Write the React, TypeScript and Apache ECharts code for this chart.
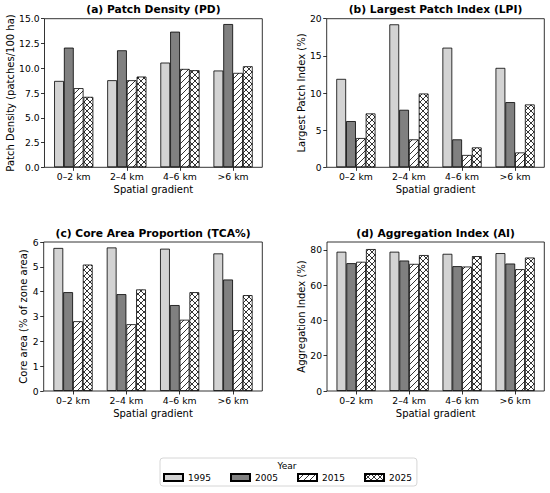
import React, { useEffect, useRef } from "react";
import * as echarts from "echarts";

const categories = ["0–2 km", "2–4 km", "4–6 km", ">6 km"];
const years = ["1995", "2005", "2015", "2025"];

const pd1995 = [8.72, 8.79, 10.57, 9.77];
const pd2005 = [12.08, 11.81, 13.69, 14.46];
const pd2015 = [7.99, 8.79, 9.93, 9.53];
const pd2025 = [7.11, 9.16, 9.8, 10.2];

const lpi1995 = [11.9, 19.24, 16.1, 13.38];
const lpi2005 = [6.22, 7.74, 3.76, 8.77];
const lpi2015 = [3.94, 3.76, 1.66, 2.0];
const lpi2025 = [7.25, 9.93, 2.68, 8.46];

const tca1995 = [5.76, 5.78, 5.73, 5.54];
const tca2005 = [3.98, 3.9, 3.46, 4.49];
const tca2015 = [2.81, 2.69, 2.87, 2.45];
const tca2025 = [5.09, 4.09, 3.98, 3.86];

const ai1995 = [78.9, 78.9, 77.7, 78.1];
const ai2005 = [72.4, 73.9, 70.7, 72.2];
const ai2015 = [73.2, 72.0, 70.5, 69.0];
const ai2025 = [80.4, 77.0, 76.4, 75.6];

const panelTitles = [
  "(a) Patch Density (PD)",
  "(b) Largest Patch Index (LPI)",
  "(c) Core Area Proportion (TCA%)",
  "(d) Aggregation Index (AI)",
];
const yNames = [
  "Patch Density (patches/100 ha)",
  "Largest Patch Index (%)",
  "Core area (% of zone area)",
  "Aggregation Index (%)",
];
const xName = "Spatial gradient";
const legendTitle = "Year";

const FONT = "DejaVu Sans";

function hatch(cross: boolean) {
  const s = 6;
  let d = `M0,${s} L${s},0 M-1,1 L1,-1 M${s - 1},${s + 1} L${s + 1},${s - 1}`;
  if (cross) d += ` M0,0 L${s},${s} M-1,${s - 1} L1,${s + 1} M${s - 1},-1 L${s + 1},1`;
  const svg = `<svg xmlns='http://www.w3.org/2000/svg' width='${s}' height='${s}'><rect width='${s}' height='${s}' fill='white'/><path d='${d}' stroke='black' stroke-width='0.8' fill='none'/></svg>`;
  return {
    image: "data:image/svg+xml;charset=utf-8," + encodeURIComponent(svg),
    repeat: "repeat",
    imageWidth: s,
    imageHeight: s,
  };
}

export default function App() {
  const ref = useRef<HTMLDivElement>(null);
  useEffect(() => {
    if (!ref.current) return;
    const chart = echarts.init(ref.current, undefined, { renderer: "svg" });

    const data = [
      [pd1995, pd2005, pd2015, pd2025],
      [lpi1995, lpi2005, lpi2015, lpi2025],
      [tca1995, tca2005, tca2015, tca2025],
      [ai1995, ai2005, ai2015, ai2025],
    ];
    const yMax = [15, 20, 6, 84.4];
    const yInterval = [2.5, 5, 1, 20];
    const yNameGap = [28, 19.5, 14.5, 19.5];
    const frames = [
      { x: 44.5, y: 18.7, w: 217.8, h: 148.6 },
      { x: 326.7, y: 18.7, w: 217.6, h: 148.6 },
      { x: 43.7, y: 242, w: 218.6, h: 149 },
      { x: 327, y: 242, w: 217.3, h: 149 },
    ];
    const colors: any[] = ["#d3d3d3", "#808080", hatch(false), hatch(true)];

    const grids: any[] = [];
    const xAxes: any[] = [];
    const yAxes: any[] = [];
    const series: any[] = [];
    const titles: any[] = [];
    const graphics: any[] = [];

    frames.forEach((f, p) => {
      const pad = (f.w * 0.05) / 4.1;
      grids.push({ left: f.x + pad, top: f.y, width: f.w - 2 * pad, height: f.h, containLabel: false });
      xAxes.push({
        type: "category",
        gridIndex: p,
        data: categories,
        name: xName,
        nameLocation: "middle",
        nameGap: 17,
        nameTextStyle: { fontFamily: FONT, fontSize: 10, color: "#000" },
        axisLine: { show: false },
        axisTick: { show: true, alignWithLabel: true, length: 3.5, lineStyle: { color: "#000", width: 0.8 } },
        axisLabel: { fontFamily: FONT, fontSize: 9.3, color: "#000", margin: 5, interval: 0 },
        splitLine: { show: false },
      });
      yAxes.push({
        type: "value",
        gridIndex: p,
        min: 0,
        max: yMax[p],
        interval: yInterval[p],
        offset: pad,
        name: yNames[p],
        nameLocation: "middle",
        nameGap: yNameGap[p],
        nameTextStyle: { fontFamily: FONT, fontSize: 10, color: "#000" },
        axisLine: { show: false },
        axisTick: { show: true, length: 3.5, lineStyle: { color: "#000", width: 0.8 } },
        axisLabel: {
          fontFamily: FONT,
          fontSize: 9.2,
          color: "#000",
          margin: 5,
          showMaxLabel: p === 3 ? false : true,
          formatter: (v: number) => (p === 0 ? v.toFixed(1) : String(v)),
        },
        splitLine: { show: false },
      });
      titles.push({
        text: panelTitles[p],
        left: f.x + f.w / 2,
        top: f.y - 14.5,
        textAlign: "center",
        padding: 0,
        textStyle: { fontFamily: FONT, fontSize: 10.7, fontWeight: "bold", color: "#000" },
      });
      graphics.push({
        type: "rect",
        z: 100,
        silent: true,
        shape: { x: f.x, y: f.y, width: f.w, height: f.h },
        style: { fill: "none", stroke: "#000", lineWidth: 0.8 },
      });
      years.forEach((yr, i) => {
        series.push({
          type: "bar",
          name: yr,
          xAxisIndex: p,
          yAxisIndex: p,
          data: data[p][i],
          barWidth: 9.8,
          barGap: "0%",
          itemStyle: { color: colors[i], borderColor: "#000", borderWidth: 0.8 },
          emphasis: { disabled: true },
        });
      });
    });

    graphics.push({
      type: "text",
      x: 287,
      y: 465.5,
      style: {
        text: legendTitle,
        fontFamily: FONT,
        fontSize: 9,
        fill: "#000",
        align: "center",
        verticalAlign: "middle",
      },
    });

    chart.setOption({
      animation: false,
      title: titles,
      grid: grids,
      xAxis: xAxes,
      yAxis: yAxes,
      series,
      graphic: graphics,
      legend: {
        data: years.map((y) => ({ name: y, icon: "rect" })),
        left: 160,
        top: 458,
        orient: "horizontal",
        itemWidth: 19,
        itemHeight: 7,
        itemGap: 19.1,
        padding: [15, 5, 4, 3],
        borderColor: "#cccccc",
        borderWidth: 0.8,
        borderRadius: 3,
        selectedMode: false,
        textStyle: { fontFamily: FONT, fontSize: 9, color: "#000" },
      },
    });
    return () => chart.dispose();
  }, []);
  return (
    <div
      ref={ref}
      style={{ position: "fixed", left: 0, top: 0, width: 550, height: 493, background: "#fff" }}
    />
  );
}
